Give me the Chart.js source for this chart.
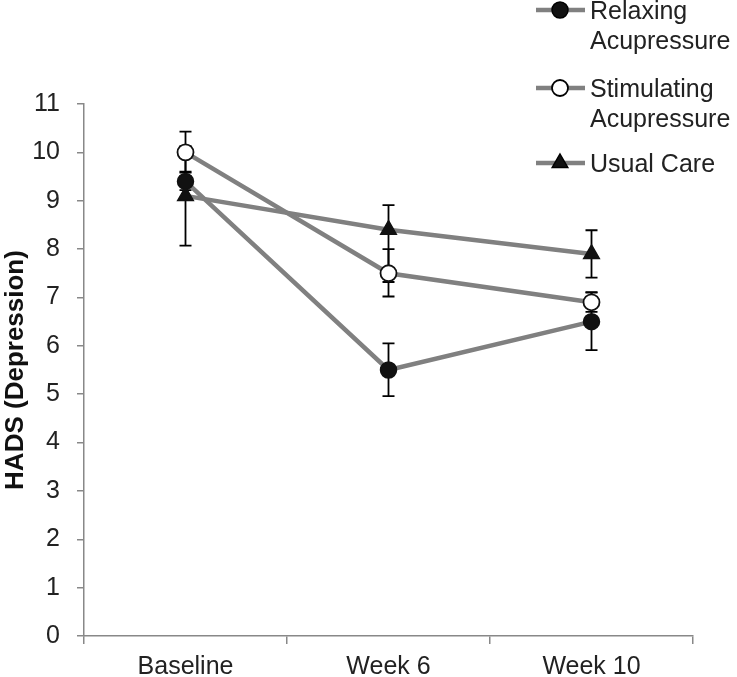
<!DOCTYPE html>
<html>
<head>
<meta charset="utf-8">
<script src="https://cdn.jsdelivr.net/npm/chart.js@4/dist/chart.umd.min.js"></script>
<style>
html,body{margin:0;padding:0;background:#fff;}
#wrap{width:737px;height:677px;}
</style>
</head>
<body>
<div id="wrap"><canvas id="c" width="737" height="677"></canvas></div>
<script>
const categories = ["Baseline", "Week 6", "Week 10"];
const seriesNames = [["Relaxing", "Acupressure"], ["Stimulating", "Acupressure"], ["Usual Care"]];
const relaxing = [9.4, 5.5, 6.5];
const relaxingLow = [9.22, 4.96, 5.91];
const relaxingHigh = [9.58, 6.05, 7.1];
const stimulating = [10.0, 7.5, 6.9];
const stimulatingLow = [9.6, 7.02, 6.7];
const stimulatingHigh = [10.43, 8.0, 7.11];
const usualCare = [9.1, 8.4, 7.9];
const usualCareLow = [8.07, 7.32, 7.41];
const usualCareHigh = [10.13, 8.91, 8.39];
const yTicks = [0,1,2,3,4,5,6,7,8,9,10,11];

const FONT = "'Liberation Sans', Arial, sans-serif";
const LINE = '#808080';
const TEXT = '#222';

const errLow = [relaxingLow, stimulatingLow, usualCareLow];
const errHigh = [relaxingHigh, stimulatingHigh, usualCareHigh];

const errorBars = {
  id: 'errorBars',
  beforeDatasetsDraw(chart) {
    const ctx = chart.ctx;
    const x = chart.scales.x, y = chart.scales.y;
    ctx.save();
    ctx.strokeStyle = '#000';
    ctx.lineWidth = 1.8;
    chart.data.datasets.forEach((ds, di) => {
      ds.data.forEach((v, i) => {
        const px = x.getPixelForValue(i);
        const y1 = y.getPixelForValue(errLow[di][i]);
        const y2 = y.getPixelForValue(errHigh[di][i]);
        ctx.beginPath();
        ctx.moveTo(px, y1); ctx.lineTo(px, y2);
        ctx.moveTo(px - 6, y1); ctx.lineTo(px + 6, y1);
        ctx.moveTo(px - 6, y2); ctx.lineTo(px + 6, y2);
        ctx.stroke();
      });
    });
    ctx.restore();
  }
};

const customLegend = {
  id: 'customLegend',
  afterDraw(chart) {
    const ctx = chart.ctx;
    ctx.save();
    const tops = [10, 88, 163];
    ctx.font = "25px " + FONT;
    ctx.textBaseline = 'middle';
    chart.data.datasets.forEach((ds, di) => {
      const cy = tops[di];
      ctx.strokeStyle = LINE;
      ctx.lineWidth = 4.5;
      ctx.beginPath();
      ctx.moveTo(536, cy); ctx.lineTo(585, cy);
      ctx.stroke();
      ctx.fillStyle = ds.pointBackgroundColor;
      ctx.strokeStyle = '#000';
      ctx.lineWidth = ds.pointBorderWidth;
      ctx.beginPath();
      if (ds.pointStyle === 'triangle') {
        const r = ds.pointRadius;
        ctx.moveTo(560, cy - r);
        ctx.lineTo(560 + r * 0.866, cy + r * 0.5);
        ctx.lineTo(560 - r * 0.866, cy + r * 0.5);
        ctx.closePath();
      } else {
        ctx.arc(560, cy, ds.pointRadius, 0, Math.PI * 2);
      }
      ctx.fill(); ctx.stroke();
      ctx.fillStyle = TEXT;
      seriesNames[di].forEach((t, li) => {
        ctx.fillText(t, 590, cy + 2 + li * 30);
      });
    });
    ctx.restore();
  }
};

new Chart(document.getElementById('c'), {
  type: 'line',
  data: {
    labels: categories,
    datasets: [
      { label: seriesNames[0].join(' '), data: relaxing, borderColor: LINE, borderWidth: 4.5,
        pointStyle: 'circle', pointRadius: 8, pointBackgroundColor: '#111', pointBorderColor: '#111', pointBorderWidth: 1.5, tension: 0 },
      { label: seriesNames[1].join(' '), data: stimulating, borderColor: LINE, borderWidth: 4.5,
        pointStyle: 'circle', pointRadius: 8, pointBackgroundColor: '#fff', pointBorderColor: '#111', pointBorderWidth: 1.8, tension: 0 },
      { label: seriesNames[2].join(' '), data: usualCare, borderColor: LINE, borderWidth: 4.5,
        pointStyle: 'triangle', pointRadius: 9, pointBackgroundColor: '#111', pointBorderColor: '#111', pointBorderWidth: 1.5, tension: 0 }
    ]
  },
  options: {
    responsive: false,
    animation: false,
    layout: { padding: { top: 104, right: 44, left: 0, bottom: 0 } },
    plugins: { legend: { display: false }, tooltip: { enabled: false } },
    scales: {
      x: {
        type: 'category',
        offset: true,
        grid: { offset: true, drawOnChartArea: false, drawTicks: true, tickLength: 8, color: '#888', lineWidth: 1.5 },
        border: { color: '#888', width: 1.5 },
        ticks: { font: { family: FONT, size: 25 }, color: TEXT, padding: 8, maxRotation: 0 },
        afterFit(s) { s.height = 41; }
      },
      y: {
        min: 0, max: 11,
        afterBuildTicks(s) { s.ticks = yTicks.map(v => ({ value: v })); },
        grid: { drawOnChartArea: false, drawTicks: true, tickLength: 7, color: '#888', lineWidth: 1.5 },
        border: { color: '#888', width: 1.5 },
        ticks: { font: { family: FONT, size: 25 }, color: TEXT, padding: 17 },
        title: { display: true, text: 'HADS (Depression)', font: { family: FONT, size: 26, weight: 'bold' }, color: '#111', padding: { top: 0, bottom: 0 } },
        afterFit(s) { s.width = 84; }
      }
    }
  },
  plugins: [errorBars, customLegend]
});
</script>
</body>
</html>
